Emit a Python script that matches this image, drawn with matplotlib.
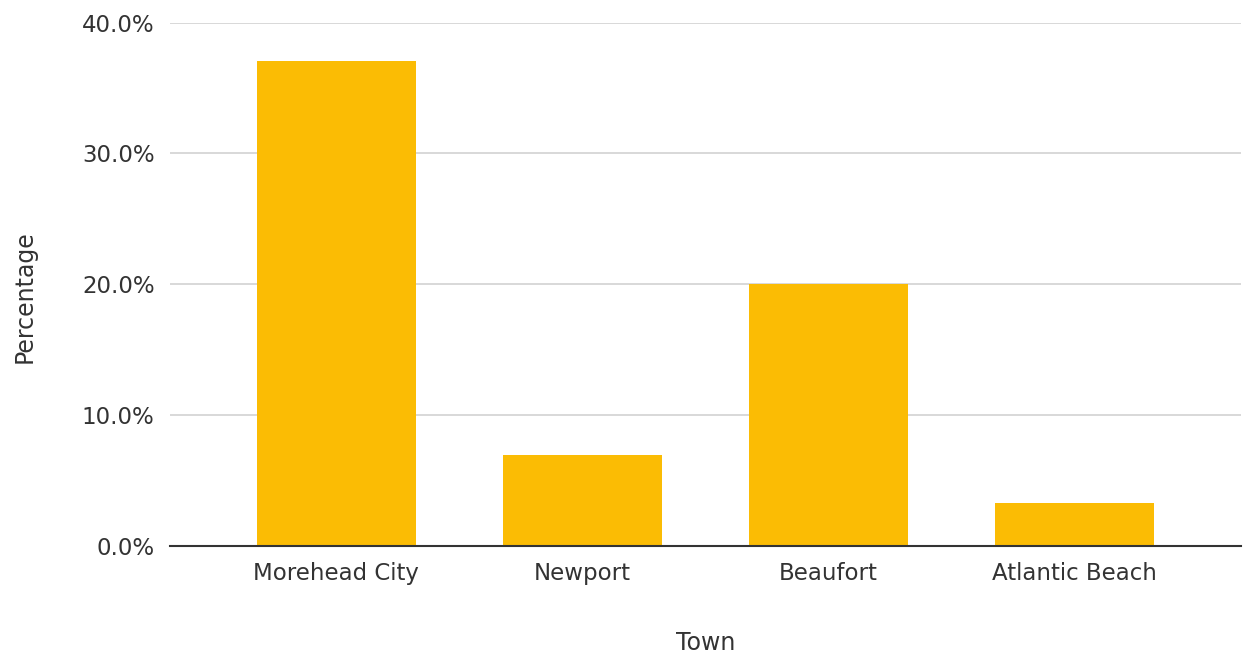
import matplotlib
matplotlib.use("Agg")
import matplotlib.pyplot as plt
from matplotlib.ticker import PercentFormatter

towns = ["Morehead City", "Newport", "Beaufort", "Atlantic Beach"]
percentages = [37.1, 6.9, 20.0, 3.3]
y_ticks = [0, 10, 20, 30, 40]

bar_color = "#FBBC04"
text_color = "#333333"

fig = plt.figure(figsize=(12.46, 6.6), dpi=100)
ax = fig.add_axes([0.1364, 0.1732, 0.8596, 0.7924])

ax.bar(range(len(towns)), percentages, width=0.645, color=bar_color, zorder=2)

ax.set_xlim(-0.675, len(towns) - 1 + 0.675)
ax.set_ylim(0, 40)
ax.set_yticks(y_ticks)
ax.yaxis.set_major_formatter(PercentFormatter(decimals=1))
ax.set_xticks(range(len(towns)))
ax.set_xticklabels(towns)

ax.grid(axis="y", color="#D6D6D6", linewidth=1.3, zorder=0)
ax.set_axisbelow(True)
for side in ["top", "right", "left"]:
    ax.spines[side].set_visible(False)
ax.spines["bottom"].set_color("#333333")
ax.spines["bottom"].set_linewidth(1.5)
ax.spines["bottom"].set_zorder(3)

ax.tick_params(axis="both", length=0, labelsize=16.5, labelcolor=text_color)
ax.tick_params(axis="x", pad=12)
ax.tick_params(axis="y", pad=11)

fig.text(0.566, 0.026, "Town", ha="center", va="center", fontsize=17, color=text_color)
fig.text(0.020, 0.55, "Percentage", ha="center", va="center", rotation=90,
         fontsize=17, color=text_color)

fig.savefig("out.png", dpi=100)
